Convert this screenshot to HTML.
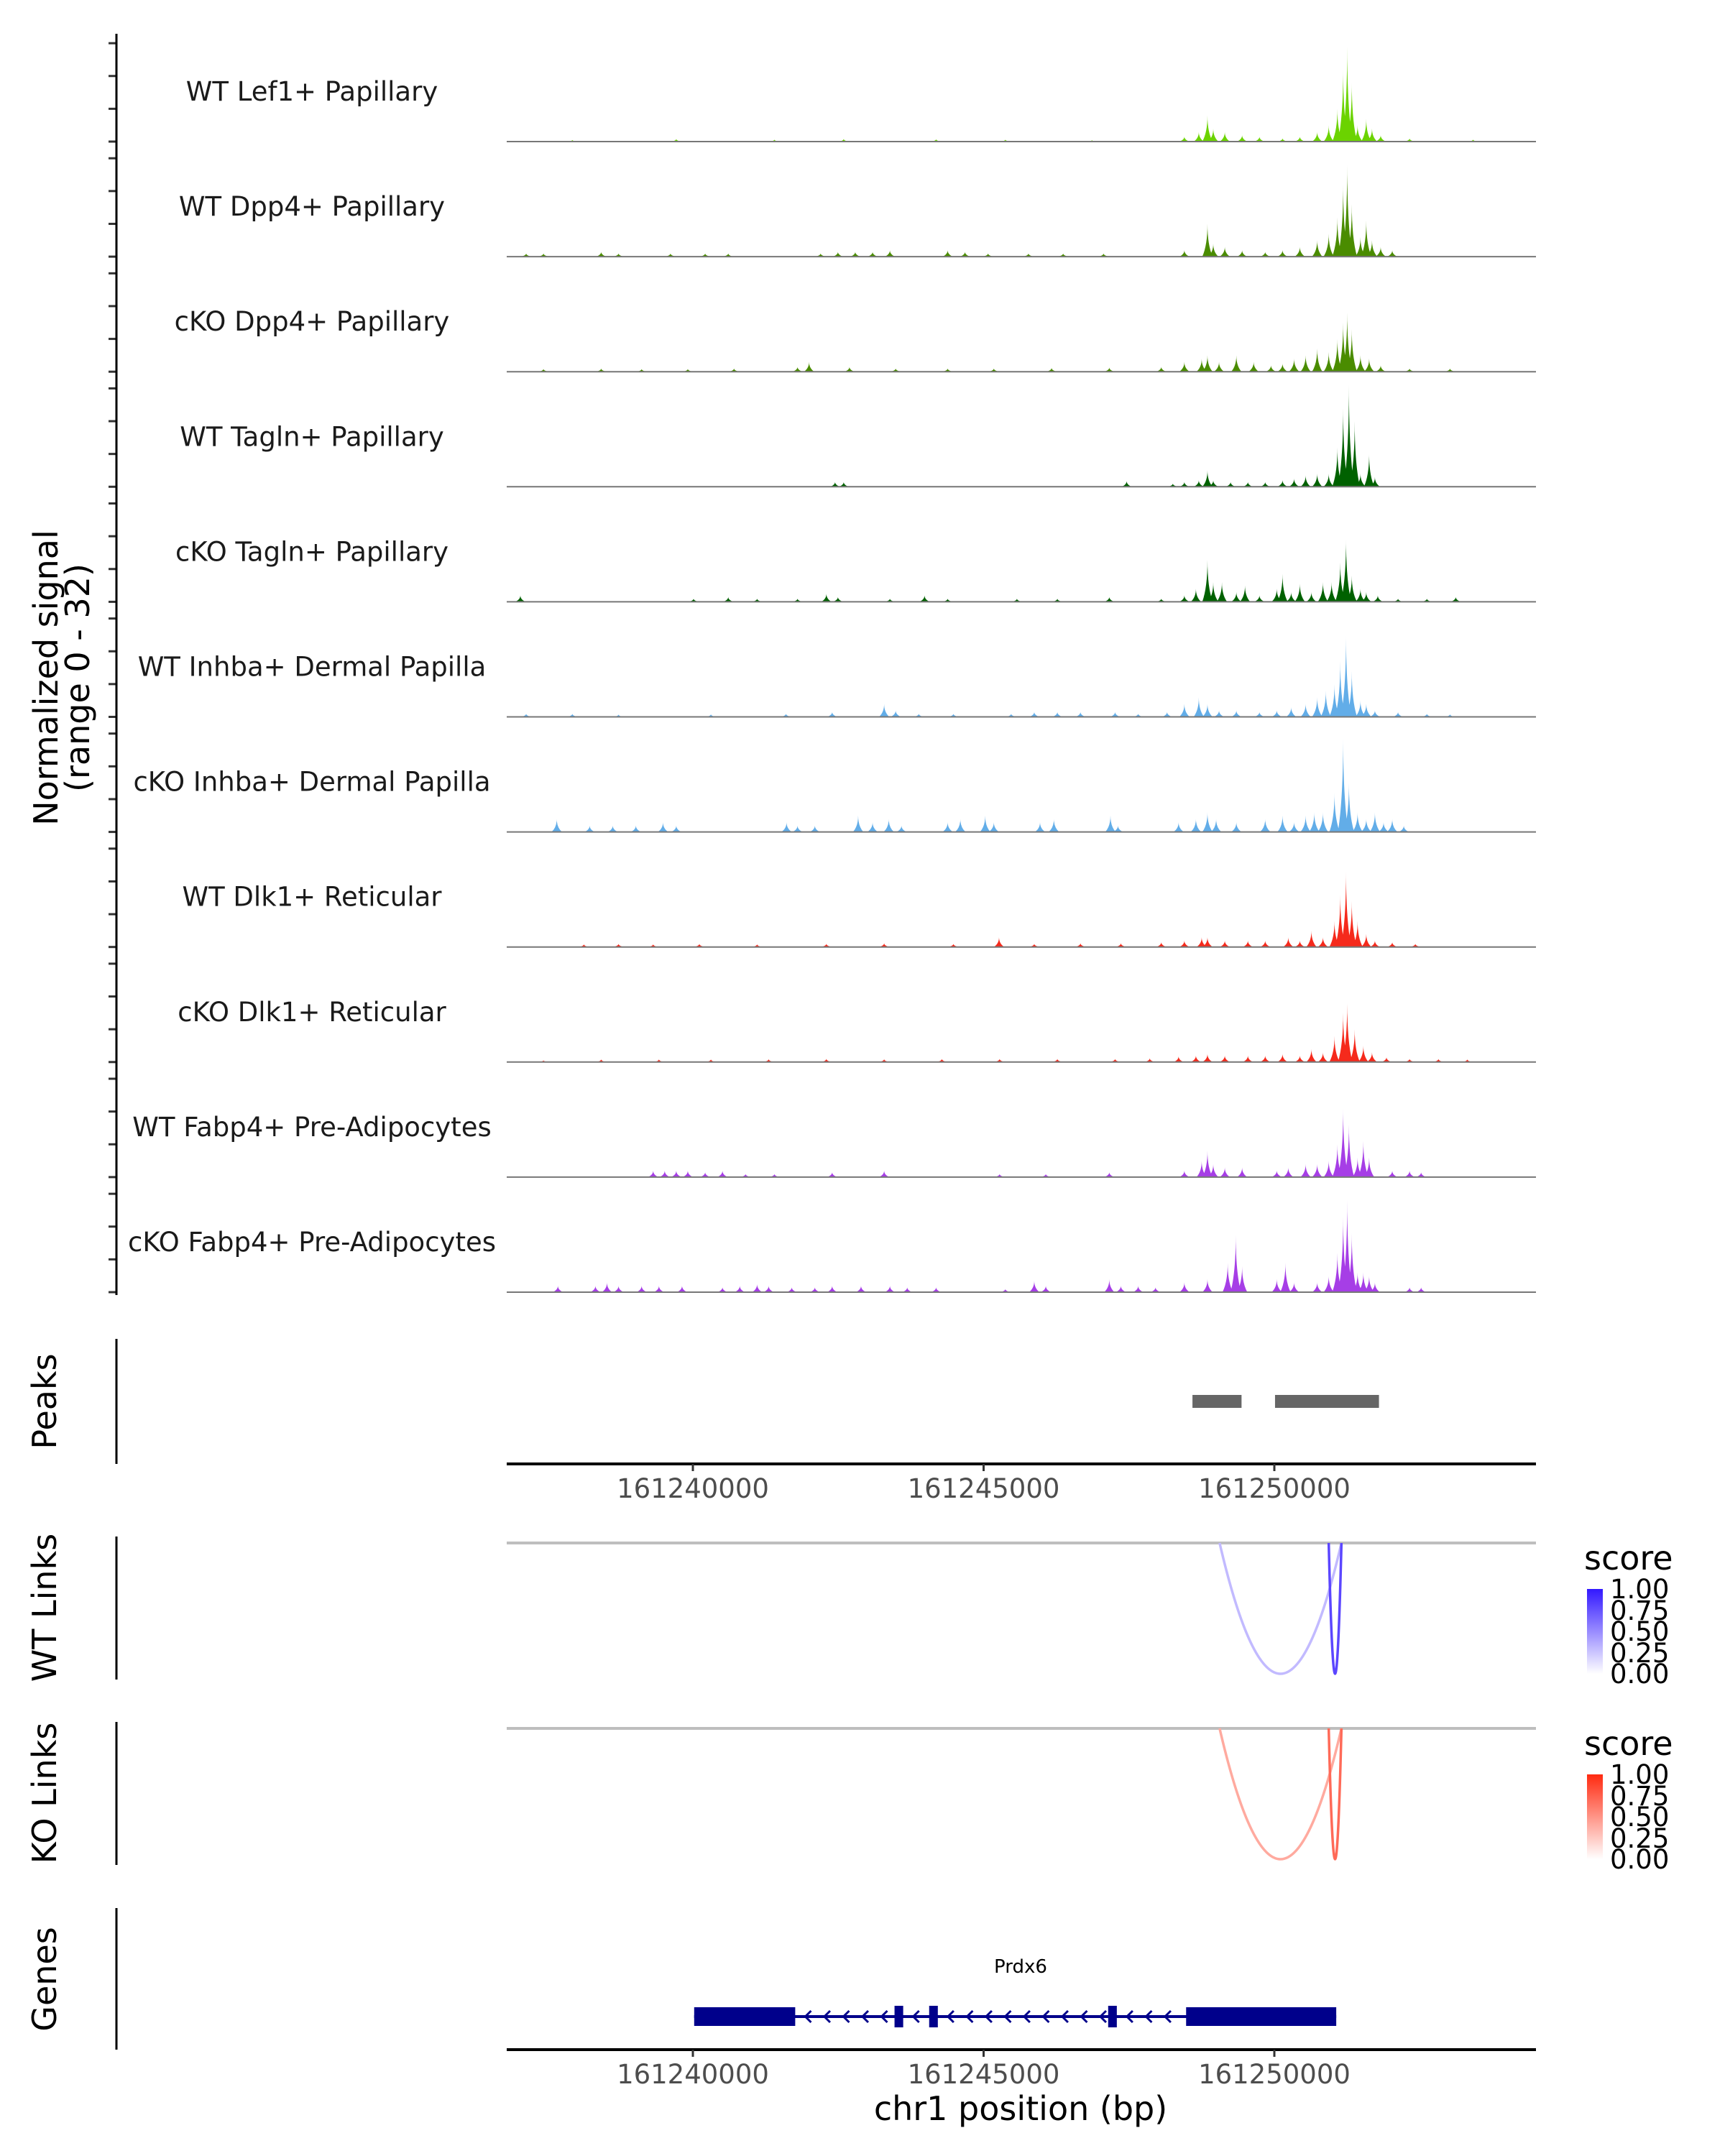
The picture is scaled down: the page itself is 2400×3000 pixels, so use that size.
<!DOCTYPE html>
<html><head><meta charset="utf-8"><style>
html,body{margin:0;padding:0;background:#fff;}
svg{display:block;font-family:"DejaVu Sans","Liberation Sans",sans-serif;}
</style></head><body>
<svg id="chart" width="2400" height="3000" viewBox="0 0 2400 3000" xmlns="http://www.w3.org/2000/svg">
<rect width="2400" height="3000" fill="#fff"/>
<g id="tracks"></g>
<line x1="162" y1="47" x2="162" y2="1802" stroke="#000" stroke-width="3"/>
<text transform="translate(80,943) rotate(-90)" text-anchor="middle" font-size="46">Normalized signal</text>
<text transform="translate(124,943) rotate(-90)" text-anchor="middle" font-size="46">(range 0 - 32)</text>

<line x1="162" y1="1863" x2="162" y2="2037" stroke="#000" stroke-width="3"/>
<text transform="translate(78,1950) rotate(-90)" text-anchor="middle" font-size="46">Peaks</text>
<g id="peaks"></g>
<line x1="705" y1="2037" x2="2137" y2="2037" stroke="#000" stroke-width="4"/>
<g id="ticks1"></g>

<line x1="162" y1="2138" x2="162" y2="2337" stroke="#000" stroke-width="3"/>
<text transform="translate(78,2237) rotate(-90)" text-anchor="middle" font-size="46">WT Links</text>
<line x1="705" y1="2147" x2="2137" y2="2147" stroke="#bebebe" stroke-width="4"/>
<g id="wtlinks"></g>
<defs>
<linearGradient id="gb" x1="0" y1="1" x2="0" y2="0"><stop offset="0" stop-color="#ffffff"/><stop offset="1" stop-color="#3218ff"/></linearGradient>
<linearGradient id="gr" x1="0" y1="1" x2="0" y2="0"><stop offset="0" stop-color="#ffffff"/><stop offset="1" stop-color="#ff2a10"/></linearGradient>
</defs>
<text x="2204" y="2184" font-size="46">score</text>
<rect x="2208" y="2211" width="22" height="118" fill="url(#gb)"/>
<g font-size="37">
<text x="2240" y="2224">1.00</text><text x="2240" y="2254">0.75</text><text x="2240" y="2283">0.50</text><text x="2240" y="2313">0.25</text><text x="2240" y="2342">0.00</text></g>

<line x1="162" y1="2396" x2="162" y2="2595" stroke="#000" stroke-width="3"/>
<text transform="translate(78,2495) rotate(-90)" text-anchor="middle" font-size="46">KO Links</text>
<line x1="705" y1="2405" x2="2137" y2="2405" stroke="#bebebe" stroke-width="4"/>
<g id="kolinks"></g>
<text x="2204" y="2442" font-size="46">score</text>
<rect x="2208" y="2469" width="22" height="118" fill="url(#gr)"/>
<g font-size="37">
<text x="2240" y="2482">1.00</text><text x="2240" y="2512">0.75</text><text x="2240" y="2541">0.50</text><text x="2240" y="2571">0.25</text><text x="2240" y="2600">0.00</text></g>

<line x1="162" y1="2655" x2="162" y2="2852" stroke="#000" stroke-width="3"/>
<text transform="translate(78,2754) rotate(-90)" text-anchor="middle" font-size="46">Genes</text>
<text x="1420" y="2745" text-anchor="middle" font-size="26">Prdx6</text>
<g id="gene"></g>
<line x1="705" y1="2852" x2="2137" y2="2852" stroke="#000" stroke-width="4"/>
<g id="ticks2"></g>
<text x="1420" y="2950" text-anchor="middle" font-size="46">chr1 position (bp)</text>
</svg>
<script>
// positions in kb offset from DATA_ORIGIN
const tickValues = [161240000, 161245000, 161250000];
const trackNames = ["WT Lef1+ Papillary","WT Dpp4+ Papillary","cKO Dpp4+ Papillary","WT Tagln+ Papillary","cKO Tagln+ Papillary","WT Inhba+ Dermal Papilla","cKO Inhba+ Dermal Papilla","WT Dlk1+ Reticular","cKO Dlk1+ Reticular","WT Fabp4+ Pre-Adipocytes","cKO Fabp4+ Pre-Adipocytes"];
const trackColors = ["#6bd300","#4a8c00","#4a8c00","#006100","#006100","#62ade8","#62ade8","#f52a1c","#f52a1c","#a63ee6","#a63ee6"];
const sig0 = [[-2,0.5],[-0.2,0.8],[1.5,0.6],[2.7,0.8],[4.3,0.7],[5.5,0.6],[7,0.4],[8.6,1.5],[8.85,3],[9.0,8],[9.1,4],[9.3,3],[9.6,2],[9.9,1.5],[10.3,1],[10.6,1.5],[10.9,3],[11.1,5],[11.25,10],[11.35,22],[11.42,29],[11.5,18],[11.6,5],[11.75,7],[11.85,4],[12.0,2],[12.5,1],[13.6,0.6]];
const sig1 = [[-2.8,1],[-2.5,1],[-1.5,1.5],[-1.2,1],[-0.3,1],[0.3,1],[0.7,1],[2.3,1],[2.6,1.5],[2.9,1.5],[3.2,1.5],[3.5,2],[4.5,2],[4.8,1.5],[5.2,1],[5.9,1],[6.5,1],[7.2,1],[8.6,2],[9.0,10],[9.1,4],[9.3,3],[9.6,2],[10.0,1.5],[10.3,2],[10.6,3],[10.9,5],[11.1,7],[11.25,12],[11.35,22],[11.42,28],[11.5,16],[11.65,6],[11.75,11],[11.85,5],[12.0,3],[12.2,2]];
const sig2 = [[-2.5,0.8],[-1.5,1],[-0.8,0.8],[0,0.8],[0.8,1],[1.9,1.5],[2.1,3],[2.8,1.5],[3.6,1],[4.5,1],[5.3,1],[6.3,1.2],[7.3,1.3],[8.2,1.5],[8.6,3],[8.9,4],[9.0,5],[9.2,3],[9.5,5],[9.8,3],[10.1,2],[10.3,2.5],[10.5,4],[10.7,5],[10.9,7],[11.1,6],[11.25,10],[11.35,15],[11.42,18],[11.5,13],[11.65,5],[11.8,4],[12.0,2],[12.5,1],[13.2,1]];
const sig3 = [[2.55,1.5],[2.7,1.5],[7.6,1.8],[8.4,1],[8.6,1.5],[8.85,2],[9.0,5],[9.1,2],[9.4,1.5],[9.7,1.5],[10.0,1.5],[10.3,2],[10.5,2.5],[10.7,3.5],[10.9,4],[11.1,4],[11.25,12],[11.35,24],[11.45,31],[11.55,20],[11.65,4],[11.8,10],[11.9,3]];
const sig4 = [[-2.9,2],[0.1,1],[0.7,1.5],[1.2,1],[1.9,1],[2.4,2.5],[2.6,1.5],[3.5,1],[4.1,2],[4.5,1],[5.7,1],[6.4,1],[7.3,1.5],[8.2,1],[8.6,2],[8.8,4],[9.0,12.7],[9.1,6],[9.25,6],[9.5,3],[9.65,5],[9.9,2],[10.2,4],[10.3,8.5],[10.45,3],[10.6,5.5],[10.8,3],[11.0,6],[11.15,6],[11.3,12],[11.4,19],[11.5,8],[11.65,4],[11.75,3],[11.95,2],[12.3,1],[12.8,1],[13.3,1.5]];
const sig5 = [[-2.8,1],[-2,1],[-1.2,0.7],[0.4,0.8],[1.7,1],[2.5,1.5],[3.4,4],[3.6,2],[4.0,1],[4.6,1],[5.6,1],[6.0,1.5],[6.4,1.5],[6.8,1.5],[7.4,1.5],[7.8,1],[8.3,1.5],[8.6,4],[8.85,6],[9.0,4],[9.2,2],[9.5,2],[9.9,1.5],[10.2,2],[10.45,3],[10.7,4],[10.9,6],[11.05,8],[11.2,10],[11.3,17],[11.4,25],[11.5,14],[11.65,5],[11.75,4],[11.9,2],[12.3,1.5],[12.8,1],[13.2,0.8]];
const sig6 = [[-2.27,4],[-1.7,2],[-1.3,2],[-0.9,2],[-0.43,3],[-0.2,2],[1.71,3],[1.9,2],[2.2,2],[2.95,5],[3.2,3],[3.48,4],[3.7,2],[4.5,3],[4.72,4],[5.15,5],[5.3,3],[6.1,3],[6.34,4],[7.32,5],[7.45,2],[8.5,3],[8.8,4],[9.0,6],[9.15,4],[9.5,3],[10.0,4],[10.3,5],[10.5,3],[10.7,5],[10.85,6],[11.0,6],[11.2,12],[11.35,29],[11.45,15],[11.6,6],[11.75,4],[11.9,6],[12.05,3],[12.2,4],[12.4,2]];
const sig7 = [[-1.8,0.8],[-1.2,1],[-0.6,0.8],[0.2,1],[1.2,0.8],[2.4,1],[3.4,1.2],[4.6,1],[5.39,3],[6.0,1],[6.8,1.2],[7.5,1.2],[8.2,1.5],[8.6,2],[8.9,3],[9.0,3],[9.3,2],[9.7,2],[10.0,2],[10.4,3],[10.6,2],[10.8,5],[11.0,3],[11.2,8],[11.3,16],[11.4,23],[11.5,14],[11.6,8],[11.75,4],[11.9,2],[12.2,1.5],[12.6,1]];
const sig8 = [[-2.5,0.5],[-1.5,0.8],[-0.5,0.8],[0.4,0.8],[1.4,0.9],[2.4,1],[3.4,0.9],[4.4,1],[5.4,1],[6.4,1],[7.4,1],[8.0,1.2],[8.5,1.8],[8.8,2],[9.0,2.5],[9.3,2],[9.7,2],[10.0,2],[10.3,2.5],[10.6,2],[10.8,4],[11.0,3],[11.2,8],[11.35,15],[11.42,18],[11.55,10],[11.7,5],[11.85,3],[12.1,1.5],[12.5,1],[13.0,1],[13.5,0.8]];
const sig9 = [[-0.6,2],[-0.4,2],[-0.2,2],[0.0,2],[0.3,1.5],[0.6,2],[1.0,1],[1.5,1],[2.5,1.5],[3.4,2],[5.4,1],[6.2,1],[7.3,1.5],[8.6,2],[8.9,5],[9.0,8],[9.1,4],[9.3,3],[9.6,3],[10.2,2],[10.4,3],[10.7,4],[10.9,4],[11.1,5],[11.25,10],[11.35,21],[11.45,16],[11.6,6],[11.7,11],[11.8,6],[12.2,2],[12.5,2],[12.7,1.5]];
const sig10 = [[-2.25,2],[-1.6,2],[-1.4,3],[-1.2,2],[-0.8,2],[-0.5,2],[-0.1,2],[0.6,1.5],[0.9,2],[1.2,2.5],[1.4,2],[1.8,1.5],[2.2,1.5],[2.5,2],[3.0,2],[3.5,2],[3.8,1.5],[4.3,1.5],[5.5,1],[6.0,3.5],[6.2,2],[7.3,4],[7.5,2],[7.8,2],[8.1,1.5],[8.6,3],[9.0,4],[9.35,9],[9.49,17.4],[9.6,8],[10.2,4],[10.35,9],[10.5,3],[10.9,3],[11.1,5],[11.25,12],[11.35,23],[11.42,28],[11.5,18],[11.6,6],[11.7,6],[11.8,5],[11.9,3],[12.5,1.5],[12.7,1.5]];
const signals = [sig0,sig1,sig2,sig3,sig4,sig5,sig6,sig7,sig8,sig9,sig10];
const peakStarts = [8.74, 10.17];
const peakEnds = [9.59, 11.97];
const wtLinkStart = [9.21, 11.1];
const wtLinkEnd = [11.32, 11.32];
const wtLinkScore = [0.3, 0.8];
const koLinkStart = [9.21, 11.1];
const koLinkEnd = [11.32, 11.32];
const koLinkScore = [0.4, 0.7];
const exonStarts = [0.11, 3.58, 4.18, 7.28, 8.63];
const exonEnds = [1.86, 3.73, 4.33, 7.43, 11.23];

const DATA_ORIGIN = 161239913, DATA_UNIT = 993; // bp per data kb
const NS = "http://www.w3.org/2000/svg";
function xbp(bp){ return 964 + (bp-161240000)/1000*80.9; }
function xs(kb){ return xbp(DATA_ORIGIN + kb*DATA_UNIT); }
function el(tag, attrs, parent){ const e=document.createElementNS(NS,tag); for(const k in attrs) e.setAttribute(k,attrs[k]); parent.appendChild(e); return e; }
const LEFT=705, RIGHT=2137, HW=0.09;
const tracks=document.getElementById('tracks');
trackNames.forEach((nm,i)=>{
  const base=197+160.1*i;
  function ys(v){ return base - v/32*146; }
  [0,10,20,30].forEach(t=>{
    const tk=el('line',{x1:151,x2:162,y1:ys(t),y2:ys(t),stroke:'#333','stroke-width':3},tracks);
    
    
  });
  const lab=el('text',{x:434,y:base-57,'text-anchor':'middle','font-size':37,fill:'#1a1a1a'},tracks);
  lab.textContent=nm;
  
  
  let d='';
  signals[i].forEach(p=>{
    const a=xs(p[0]-HW), b=xs(p[0]), c=xs(p[0]+HW);
    d+=`M${a},${base}Q${b},${ys(p[1]*0.35)} ${b},${ys(p[1])}Q${b},${ys(p[1]*0.35)} ${c},${base}Z`;
  });
  const area=el('path',{d:d,fill:trackColors[i]},tracks);
  
  
  const bl=el('line',{x1:LEFT,x2:RIGHT,y1:base,y2:base,stroke:'#777','stroke-width':2},tracks);
  
  
});
const pk=document.getElementById('peaks');
peakStarts.forEach((s,i)=>{
  const r=el('rect',{x:xs(s),y:1941,width:xs(peakEnds[i])-xs(s),height:18,fill:'#666'},pk);
  
  
});
function ticks(id,y){
  const g=document.getElementById(id);
  tickValues.forEach(v=>{
    const x=xbp(v);
    const l=el('line',{x1:x,x2:x,y1:y,y2:y+10,stroke:'#333','stroke-width':3},g);
    
    
    const t=el('text',{x:x,y:y+47,'text-anchor':'middle','font-size':37,fill:'#4d4d4d'},g);
    t.textContent=v;
    
    
  });
}
ticks('ticks1',2037); ticks('ticks2',2852);
function mix(c,s){ return `rgb(${Math.round(255+(c[0]-255)*s)},${Math.round(255+(c[1]-255)*s)},${Math.round(255+(c[2]-255)*s)})`; }
function links(id,st,en,sc,y0,col){
  const g=document.getElementById(id);
  st.forEach((s,i)=>{
    const a=xs(s), b=xs(en[i]), h=182;
    const p=el('path',{d:`M${a},${y0}Q${(a+b)/2},${y0+2*h} ${b},${y0}`,fill:'none',stroke:mix(col,sc[i]),'stroke-width':3.5},g);
    
    
  });
}
links('wtlinks',wtLinkStart,wtLinkEnd,wtLinkScore,2147,[50,24,255]);
links('kolinks',koLinkStart,koLinkEnd,koLinkScore,2405,[255,42,16]);
const gg=document.getElementById('gene');
const gy=2806;
const gl=el('line',{x1:xs(exonStarts[0]),x2:xs(exonEnds[exonEnds.length-1]),y1:gy,y2:gy,stroke:'#00008b','stroke-width':4},gg);


for(let i=0;i<exonStarts.length-1;i++){
  for(let k=exonEnds[i]+0.2;k<exonStarts[i+1]-0.1;k+=0.33){
    const x=xs(k);
    const c=el('path',{d:`M${x+6},${gy-8}L${x-2},${gy}L${x+6},${gy+8}`,fill:'none',stroke:'#00008b','stroke-width':3},gg);
    
    
  }
}
exonStarts.forEach((s,i)=>{
  const big=(exonEnds[i]-s)>1;
  const r=el('rect',{x:xs(s),y:big?gy-13:gy-15,width:xs(exonEnds[i])-xs(s),height:big?26:30,fill:'#00008b'},gg);
  
  
});
</script>
</body></html>
